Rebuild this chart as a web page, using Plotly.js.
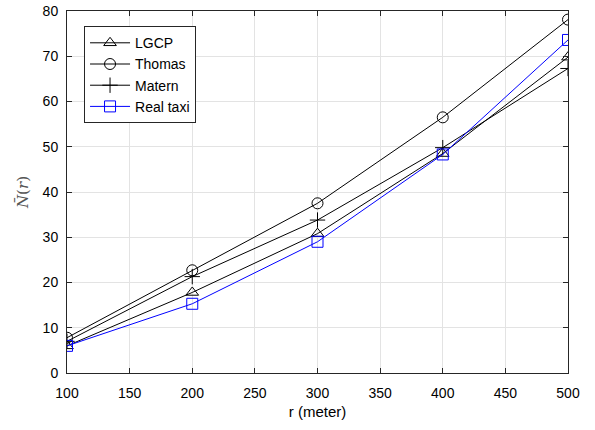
<!DOCTYPE html>
<html>
<head>
<meta charset="utf-8">
<script src="https://cdn.plot.ly/plotly-3.0.1.min.js"></script>
<style>html,body{margin:0;padding:0;background:#fff;}#chart{width:595px;height:430px;}</style>
</head>
<body>
<div id="chart"></div>
<script>
const rValues = [100, 200, 300, 400, 500];
const lgcp = [6.0, 17.8, 30.8, 48.5, 69.8];
const thomas = [7.8, 22.7, 37.5, 56.5, 78.1];
const matern = [7.0, 21.3, 33.8, 49.8, 67.3];
const realTaxi = [6.0, 15.3, 29.0, 48.3, 73.6];
const xTicks = [100, 150, 200, 250, 300, 350, 400, 450, 500];
const yTicks = [0, 10, 20, 30, 40, 50, 60, 70, 80];

function series(name, y, color, symbol) {
  return {
    x: rValues, y: y, name: name, type: 'scatter', mode: 'lines+markers',
    line: {color: color, width: 1},
    marker: {symbol: symbol, size: 11, color: color, line: {color: color, width: 1}}
  };
}
const data = [
  series('LGCP', lgcp, '#000000', 'triangle-up-open'),
  series('Thomas', thomas, '#000000', 'circle-open'),
  series('Matern', matern, '#000000', 'cross-thin-open'),
  series('Real taxi', realTaxi, '#0000ff', 'square-open')
];
const axisCommon = {
  showline: true, linecolor: '#262626', linewidth: 1, mirror: 'ticks',
  ticks: 'inside', ticklen: 5, tickcolor: '#262626',
  showgrid: true, gridcolor: '#e3e3e3', gridwidth: 1, zeroline: false,
  tickfont: {family: 'Liberation Sans, Arial, sans-serif', size: 14, color: '#000'}
};
const layout = {
  width: 595, height: 430,
  margin: {l: 67, r: 27, t: 11, b: 57},
  paper_bgcolor: '#fff', plot_bgcolor: '#fff',
  showlegend: true,
  legend: {
    x: 0.034, y: 0.958, xanchor: 'left', yanchor: 'top',
    bgcolor: '#fff', bordercolor: '#262626', borderwidth: 1,
    font: {family: 'Liberation Sans, Arial, sans-serif', size: 14, color: '#000'},
    tracegroupgap: 0, itemwidth: 40
  },
  xaxis: Object.assign({}, axisCommon, {
    range: [100, 500], tickvals: xTicks, ticklabelstandoff: 7,
    title: {text: 'r (meter)', font: {family: 'Liberation Sans, Arial, sans-serif', size: 15, color: '#000'}, standoff: 6}
  }),
  yaxis: Object.assign({}, axisCommon, {
    range: [0, 80], tickvals: yTicks, ticklabelstandoff: 5,
    title: {text: '<i>N\u0304</i>(<i>r</i>)', font: {family: 'DejaVu Serif, serif', size: 15, color: '#555'}, standoff: 10}
  })
};
Plotly.newPlot('chart', data, layout, {displayModeBar: false, staticPlot: true});
</script>
</body>
</html>
